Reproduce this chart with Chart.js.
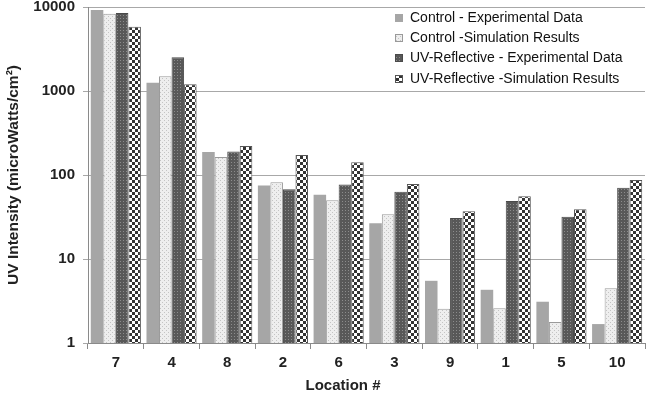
<!DOCTYPE html>
<html><head><meta charset="utf-8">
<script src="https://cdn.jsdelivr.net/npm/chart.js@4.4.1/dist/chart.umd.min.js"></script>
<style>html,body{margin:0;padding:0;background:#fff}#wrap{width:653px;height:395px}</style>
</head><body><div id="wrap"><canvas id="c" width="653" height="395"></canvas></div>
<script>
const categories = ['7','4','8','2','6','3','9','1','5','10'];
const controlExperimental = [9200,1250,188,75,58,26.6,5.5,4.3,3.1,1.68];
const controlSimulation = [8300,1500,164,82,50,34,2.55,2.6,1.78,4.5];
const uvExperimental = [8500,2530,190,67.5,77,63,30.8,49,31.9,70.6];
const uvSimulation = [5800,1200,221,173,142,78,37,55.7,39,87];
const seriesLabels = ['Control - Experimental Data','Control -Simulation Results','UV-Reflective - Experimental Data','UV-Reflective -Simulation Results'];
const yTickValues = [1,10,100,1000,10000];
const xTitle = 'Location #';
const yTitle = 'UV Intensity (microWatts/cm²)';
const FONT = '"Liberation Sans", Arial, sans-serif';

function makePattern(size, draw){
  const c=document.createElement('canvas');c.width=size;c.height=size;
  const g=c.getContext('2d');draw(g);
  return document.getElementById('c').getContext('2d').createPattern(c,'repeat');
}
const patLight = makePattern(4,g=>{g.fillStyle='#eeeeee';g.fillRect(0,0,4,4);g.fillStyle='#c4c4c4';g.fillRect(0,0,1,1);g.fillRect(2,2,1,1);});
const patDark = makePattern(3,g=>{g.fillStyle='#585858';g.fillRect(0,0,3,3);g.fillStyle='#8c8c8c';g.fillRect(0,0,1,1);});
const patCheck = makePattern(6,g=>{g.fillStyle='#ffffff';g.fillRect(0,0,6,6);g.fillStyle='#333333';g.fillRect(0,0,3,3);g.fillRect(3,3,3,3);});

const legendPlugin = {
  id:'insideLegend',
  afterDraw(chart){
    const ctx=chart.ctx;
    const ys=[18,38,58,79];
    ctx.save();
    ctx.font='14px '+FONT;
    ctx.textBaseline='middle';
    chart.data.datasets.forEach((ds,i)=>{
      ctx.fillStyle=ds.backgroundColor;
      ctx.fillRect(395,ys[i]-4,8,8);
      if(ds.borderWidth){ctx.strokeStyle=ds.borderColor;ctx.lineWidth=1;ctx.strokeRect(395.5,ys[i]-3.5,7,7);}
      ctx.fillStyle='#111';
      ctx.fillText(ds.label,410,ys[i]);
    });
    // x-axis title
    ctx.font='bold 15px '+FONT;
    ctx.fillStyle='#222';
    ctx.textAlign='center';
    ctx.fillText(xTitle,343,386);
    ctx.restore();
  }
};

new Chart(document.getElementById('c'),{
  type:'bar',
  data:{labels:categories,datasets:[
    {label:seriesLabels[0],data:controlExperimental,backgroundColor:'#a6a6a6',borderWidth:0},
    {label:seriesLabels[1],data:controlSimulation,backgroundColor:patLight,borderColor:'#9a9a9a',borderWidth:1},
    {label:seriesLabels[2],data:uvExperimental,backgroundColor:patDark,borderColor:'#4a4a4a',borderWidth:1},
    {label:seriesLabels[3],data:uvSimulation,backgroundColor:patCheck,borderColor:'#555555',borderWidth:1}
  ]},
  options:{
    responsive:false,animation:false,
    layout:{padding:{top:7,right:8,left:0,bottom:0}},
    plugins:{legend:{display:false},tooltip:{enabled:false}},
    datasets:{bar:{categoryPercentage:0.9,barPercentage:1.0}},
    scales:{
      x:{
        grid:{display:true,drawOnChartArea:false,offset:true,tickLength:6,color:'#8a8a8a'},
        border:{color:'#8a8a8a'},
        ticks:{color:'#222',font:{family:FONT,size:15,weight:'bold'},padding:5},
        title:{display:false},
        afterFit(s){s.height=52;s.paddingLeft=0;s.paddingRight=0;}
      },
      y:{
        type:'logarithmic',min:1,max:10000,
        afterBuildTicks(s){s.ticks=yTickValues.map(v=>({value:v}));},
        grid:{color:'#a8a8a8',tickLength:5},
        border:{color:'#8a8a8a'},
        ticks:{color:'#222',font:{family:FONT,size:15,weight:'bold'},padding:8,callback:(v)=>String(v)},
        title:{display:true,text:yTitle,color:'#222',font:{family:FONT,size:15.5,weight:'bold'},padding:{top:4,bottom:4}},
        afterFit(s){s.width=88;s.paddingTop=0;s.paddingBottom=0;}
      }
    }
  },
  plugins:[legendPlugin]
});
</script></body></html>
